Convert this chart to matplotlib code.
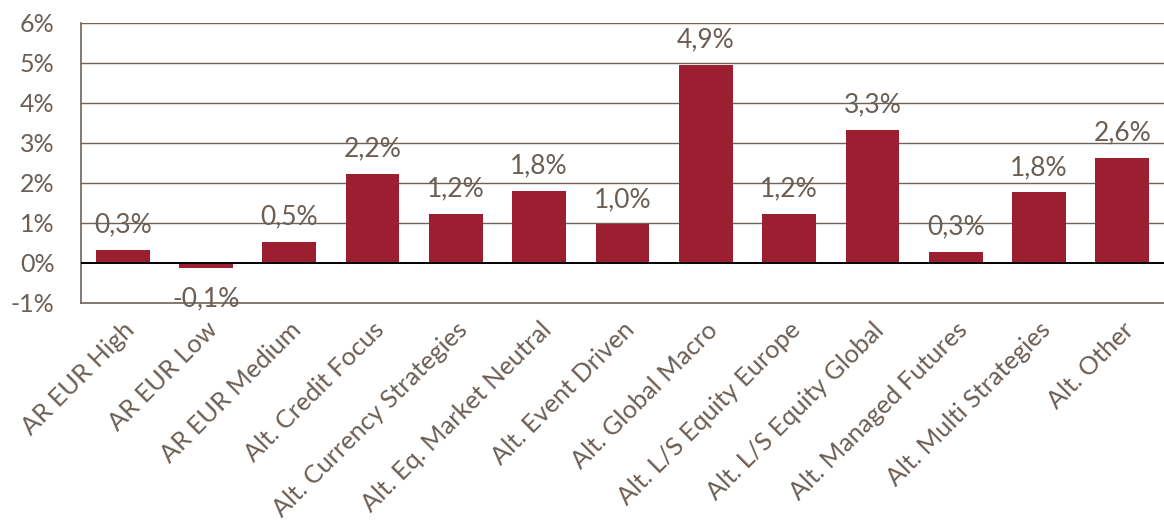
import matplotlib.pyplot as plt

categories = ['AR EUR High', 'AR EUR Low', 'AR EUR Medium', 'Alt. Credit Focus',
              'Alt. Currency Strategies', 'Alt. Eq. Market Neutral', 'Alt. Event Driven',
              'Alt. Global Macro', 'Alt. L/S Equity Europe', 'Alt. L/S Equity Global',
              'Alt. Managed Futures', 'Alt. Multi Strategies', 'Alt. Other']
values = [0.33, -0.14, 0.52, 2.22, 1.22, 1.79, 0.96, 4.94, 1.22, 3.32, 0.27, 1.76, 2.63]
yticks = [-1, 0, 1, 2, 3, 4, 5, 6]

bar_color = '#9B1F30'
text_color = '#6B5E55'
grid_color = '#6E6259'

plt.rcParams['font.family'] = ['Lato', 'DejaVu Sans']

fig = plt.figure(figsize=(11.64, 5.27), dpi=100)
ax = fig.add_axes([0.0696, 0.4256, 0.9304, 0.5313])

x = list(range(len(categories)))
ax.bar(x, values, width=0.645, color=bar_color, zorder=2)

# gridlines
for t in yticks[1:]:
    if t == 0:
        continue
    ax.axhline(t, color=grid_color, lw=1.0, zorder=1)
ax.axhline(0, color='black', lw=1.4, zorder=3)

# data labels
for xi, v in zip(x, values):
    lab = ('%.1f%%' % v).replace('.', ',')
    if v >= 0:
        ax.annotate(lab, (xi, v), xytext=(0, 12.5), textcoords='offset points',
                    ha='center', va='baseline', fontsize=19, color=text_color, zorder=4)
    else:
        ax.annotate(lab, (xi, v), xytext=(0, -13), textcoords='offset points',
                    ha='center', va='top', fontsize=19, color=text_color, zorder=4)

ax.set_xlim(-0.5, len(categories) - 0.5)
ax.set_ylim(-1, 6)
ax.set_yticks(yticks)
ax.set_yticklabels(['%d%%' % t for t in yticks])
ax.set_xticks(x)
ax.set_xticklabels(categories, rotation=45, ha='right', rotation_mode='anchor')

ax.tick_params(axis='y', length=0, pad=19, labelsize=18, labelcolor=text_color)
ax.tick_params(axis='x', length=0, pad=11, labelsize=18.3, labelcolor=text_color)

for s in ['left', 'bottom']:
    ax.spines[s].set_color(grid_color)
    ax.spines[s].set_linewidth(1.2)
ax.spines['right'].set_visible(False)
ax.spines['top'].set_visible(False)

fig.savefig('out.png', dpi=100)
